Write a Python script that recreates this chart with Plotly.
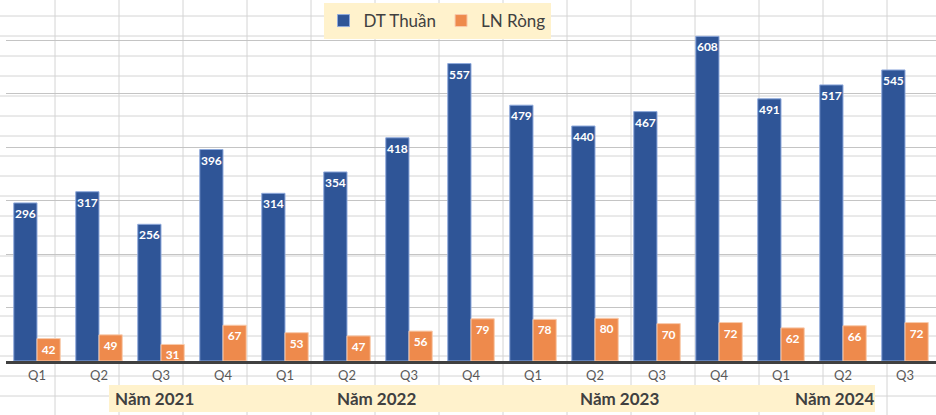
import plotly.graph_objects as go

# ---- data ----
quarters = ["Q1", "Q2", "Q3", "Q4", "Q1", "Q2", "Q3", "Q4",
            "Q1", "Q2", "Q3", "Q4", "Q1", "Q2", "Q3"]
dt_thuan = [296, 317, 256, 396, 314, 354, 418, 557, 479, 440, 467, 608, 491, 517, 545]
ln_rong = [42, 49, 31, 67, 53, 47, 56, 79, 78, 80, 70, 72, 62, 66, 72]
year_labels = ["Năm 2021", "Năm 2022", "Năm 2023", "Năm 2024"]
series_names = ["DT Thuần", "LN Ròng"]

# ---- layout geometry (pixels) ----
W, H = 936, 415
ML, MR, MT, MB = 6, 0, 0, 54
PW, PH = W - ML - MR, H - MT - MB

def px_x(px):
    return (px - ML) / PW

def px_y(py):
    return (H - MB - py) / PH

x_idx = list(range(len(quarters)))

label_font = dict(color="white", size=12, family="Lato", weight="bold")

fig = go.Figure()
fig.add_trace(go.Bar(
    x=x_idx, y=dt_thuan, name=series_names[0],
    marker=dict(color="#2F5597", line=dict(color="#8FAADC", width=1)),
    texttemplate="%{y}", textposition="inside", insidetextanchor="end",
    textangle=0, textfont=label_font,
))
fig.add_trace(go.Bar(
    x=x_idx, y=ln_rong, name=series_names[1],
    marker=dict(color="#EE8A4C", line=dict(color="#F8CBAD", width=1)),
    texttemplate="%{y}", textposition="inside", insidetextanchor="end",
    textangle=0, textfont=label_font,
))

shapes = []
# spreadsheet-like background grid
for k in range(-1, 15):
    xp = 55 + 64 * k
    if 0 <= xp <= W:
        shapes.append(dict(type="line", xref="paper", yref="paper",
                           x0=px_x(xp), x1=px_x(xp), y0=px_y(0), y1=px_y(H),
                           line=dict(color="#D4D4D4", width=1), layer="below"))
for k in range(0, 20):
    yp = 16 + 20 * k
    shapes.append(dict(type="line", xref="paper", yref="paper",
                       x0=px_x(0), x1=px_x(W), y0=px_y(yp), y1=px_y(yp),
                       line=dict(color="#D4D4D4", width=1), layer="below"))
# year band
shapes.append(dict(type="rect", xref="paper", yref="paper",
                   x0=px_x(109), x1=px_x(875), y0=px_y(412), y1=px_y(385),
                   fillcolor="#FFF2CC", line=dict(width=0), layer="below"))

year_px = [113, 335, 578, 793]
annotations = []
for lbl, xp in zip(year_labels, year_px):
    annotations.append(dict(text=lbl, xref="paper", yref="paper",
                            x=px_x(xp), y=px_y(399), xanchor="left", yanchor="middle",
                            showarrow=False,
                            font=dict(size=17, color="#404040", family="Lato", weight="bold")))

fig.update_layout(
    width=W, height=H,
    margin=dict(l=ML, r=MR, t=MT, b=MB, pad=0),
    paper_bgcolor="white", plot_bgcolor="rgba(0,0,0,0)",
    barmode="group", bargap=0.25, bargroupgap=0,
    font=dict(family="Lato", color="#595959"),
    uniformtext=dict(minsize=12, mode="show"),
    showlegend=True,
    legend=dict(orientation="h", x=px_x(437), xanchor="center", y=px_y(3), yanchor="top",
                bgcolor="#FFF2CC", font=dict(size=17, color="#404040", family="Lato"),
                itemwidth=30, traceorder="normal"),
    shapes=shapes, annotations=annotations,
    xaxis=dict(tickmode="array", tickvals=x_idx, ticktext=quarters,
               range=[-0.5, len(quarters) - 0.5], showgrid=False, zeroline=False,
               showline=True, linecolor="#404040", linewidth=3, ticks="",
               tickfont=dict(size=13, color="#595959", family="Lato")),
    yaxis=dict(range=[0, 676], dtick=100, showgrid=True, gridcolor="#C4C4C4",
               gridwidth=1, zeroline=False, showticklabels=False, fixedrange=True),
)

fig.write_html(
    "out.html",
    config={"displayModeBar": False},
    post_script="document.body.style.margin='0';document.body.style.overflow='hidden';",
)
